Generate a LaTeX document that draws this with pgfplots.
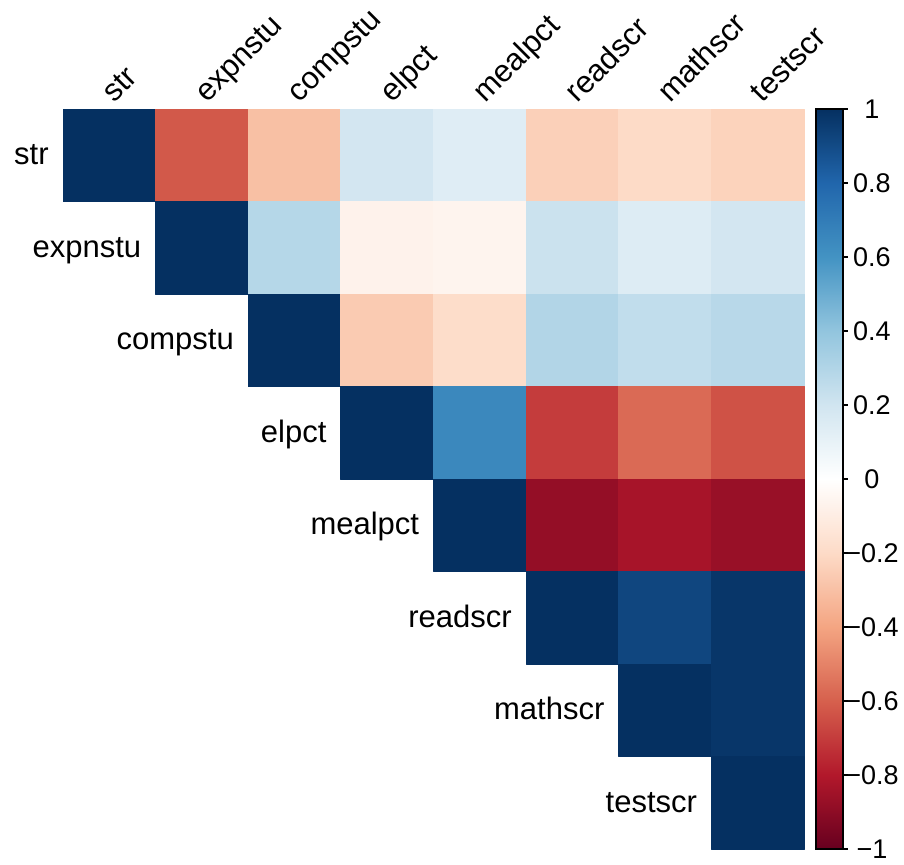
\documentclass[border=0pt]{standalone}
\usepackage{fontspec}
\setmainfont{Liberation Sans}
\usepackage{pgfplots}
\pgfplotsset{compat=1.18}
\newcommand{\lab}{\fontsize{15.5}{18}\selectfont}
\newcommand{\tlab}{\fontsize{13.5}{15}\selectfont}
\begin{document}
\begin{tikzpicture}
\begin{axis}[
  scale only axis, width=370.5pt, height=370pt,
  xmin=0.5, xmax=8.5, ymin=0.5, ymax=8.5, y dir=reverse,
  hide axis, clip=false,
  colormap={rdbu}{rgb255(0)=(103,0,31) rgb255(1)=(178,24,43) rgb255(2)=(214,96,77) rgb255(3)=(244,165,130) rgb255(4)=(253,219,199) rgb255(5)=(255,255,255) rgb255(6)=(209,229,240) rgb255(7)=(146,197,222) rgb255(8)=(67,147,195) rgb255(9)=(33,102,172) rgb255(10)=(5,48,97)},
  point meta min=-1, point meta max=1,
  colorbar,
  colorbar style={
    at={(parent axis.north east)}, anchor=north west, xshift=-2.54pt,
    width=13.5pt,
    ytick={-1,-0.8,-0.6,-0.4,-0.2,0,0.2,0.4,0.6,0.8,1},
    yticklabels={−1,−0.8,−0.6,−0.4,−0.2,0,0.2,0.4,0.6,0.8,1},
    ytick pos=right, yticklabel pos=right,
    tick align=outside, major tick length=2.5pt,
    tick style={black, line width=0.6pt},
    axis line style={black, line width=1pt},
    yticklabel style={font=\tlab, anchor=center, inner sep=0pt, xshift=12pt},
  },
]
\addplot[patch, patch type=rectangle, shader=flat, point meta=explicit] table[meta=c] {
x y c
0.5 0.5 1
1.5 0.5 1
1.5 1.5 1
0.5 1.5 1
1.5 0.5 -0.62
2.5 0.5 -0.62
2.5 1.5 -0.62
1.5 1.5 -0.62
2.5 0.5 -0.30
3.5 0.5 -0.30
3.5 1.5 -0.30
2.5 1.5 -0.30
3.5 0.5 0.19
4.5 0.5 0.19
4.5 1.5 0.19
3.5 1.5 0.19
4.5 0.5 0.14
5.5 0.5 0.14
5.5 1.5 0.14
4.5 1.5 0.14
5.5 0.5 -0.24
6.5 0.5 -0.24
6.5 1.5 -0.24
5.5 1.5 -0.24
6.5 0.5 -0.20
7.5 0.5 -0.20
7.5 1.5 -0.20
6.5 1.5 -0.20
7.5 0.5 -0.23
8.5 0.5 -0.23
8.5 1.5 -0.23
7.5 1.5 -0.23
1.5 1.5 1
2.5 1.5 1
2.5 2.5 1
1.5 2.5 1
2.5 1.5 0.29
3.5 1.5 0.29
3.5 2.5 0.29
2.5 2.5 0.29
3.5 1.5 -0.07
4.5 1.5 -0.07
4.5 2.5 -0.07
3.5 2.5 -0.07
4.5 1.5 -0.06
5.5 1.5 -0.06
5.5 2.5 -0.06
4.5 2.5 -0.06
5.5 1.5 0.22
6.5 1.5 0.22
6.5 2.5 0.22
5.5 2.5 0.22
6.5 1.5 0.15
7.5 1.5 0.15
7.5 2.5 0.15
6.5 2.5 0.15
7.5 1.5 0.19
8.5 1.5 0.19
8.5 2.5 0.19
7.5 2.5 0.19
2.5 2.5 1
3.5 2.5 1
3.5 3.5 1
2.5 3.5 1
3.5 2.5 -0.26
4.5 2.5 -0.26
4.5 3.5 -0.26
3.5 3.5 -0.26
4.5 2.5 -0.19
5.5 2.5 -0.19
5.5 3.5 -0.19
4.5 3.5 -0.19
5.5 2.5 0.30
6.5 2.5 0.30
6.5 3.5 0.30
5.5 3.5 0.30
6.5 2.5 0.25
7.5 2.5 0.25
7.5 3.5 0.25
6.5 3.5 0.25
7.5 2.5 0.28
8.5 2.5 0.28
8.5 3.5 0.28
7.5 3.5 0.28
3.5 3.5 1
4.5 3.5 1
4.5 4.5 1
3.5 4.5 1
4.5 3.5 0.65
5.5 3.5 0.65
5.5 4.5 0.65
4.5 4.5 0.65
5.5 3.5 -0.70
6.5 3.5 -0.70
6.5 4.5 -0.70
5.5 4.5 -0.70
6.5 3.5 -0.57
7.5 3.5 -0.57
7.5 4.5 -0.57
6.5 4.5 -0.57
7.5 3.5 -0.64
8.5 3.5 -0.64
8.5 4.5 -0.64
7.5 4.5 -0.64
4.5 4.5 1
5.5 4.5 1
5.5 5.5 1
4.5 5.5 1
5.5 4.5 -0.88
6.5 4.5 -0.88
6.5 5.5 -0.88
5.5 5.5 -0.88
6.5 4.5 -0.83
7.5 4.5 -0.83
7.5 5.5 -0.83
6.5 5.5 -0.83
7.5 4.5 -0.87
8.5 4.5 -0.87
8.5 5.5 -0.87
7.5 5.5 -0.87
5.5 5.5 1
6.5 5.5 1
6.5 6.5 1
5.5 6.5 1
6.5 5.5 0.92
7.5 5.5 0.92
7.5 6.5 0.92
6.5 6.5 0.92
7.5 5.5 0.98
8.5 5.5 0.98
8.5 6.5 0.98
7.5 6.5 0.98
6.5 6.5 1
7.5 6.5 1
7.5 7.5 1
6.5 7.5 1
7.5 6.5 0.98
8.5 6.5 0.98
8.5 7.5 0.98
7.5 7.5 0.98
7.5 7.5 1
8.5 7.5 1
8.5 8.5 1
7.5 8.5 1
};
\coordinate (bl) at (axis cs:0.5,8.5);
% column labels
\node[rotate=45, anchor=base west, inner sep=0pt, font=\lab] at ([shift={(2.5pt,2.5pt)}]axis cs:1,0.5) {str};
\node[rotate=45, anchor=base west, inner sep=0pt, font=\lab] at ([shift={(2.5pt,2.5pt)}]axis cs:2,0.5) {expnstu};
\node[rotate=45, anchor=base west, inner sep=0pt, font=\lab] at ([shift={(2.5pt,2.5pt)}]axis cs:3,0.5) {compstu};
\node[rotate=45, anchor=base west, inner sep=0pt, font=\lab] at ([shift={(2.5pt,2.5pt)}]axis cs:4,0.5) {elpct};
\node[rotate=45, anchor=base west, inner sep=0pt, font=\lab] at ([shift={(2.5pt,2.5pt)}]axis cs:5,0.5) {mealpct};
\node[rotate=45, anchor=base west, inner sep=0pt, font=\lab] at ([shift={(2.5pt,2.5pt)}]axis cs:6,0.5) {readscr};
\node[rotate=45, anchor=base west, inner sep=0pt, font=\lab] at ([shift={(2.5pt,2.5pt)}]axis cs:7,0.5) {mathscr};
\node[rotate=45, anchor=base west, inner sep=0pt, font=\lab] at ([shift={(2.5pt,2.5pt)}]axis cs:8,0.5) {testscr};
% row labels
\node[anchor=base east, inner sep=0pt, font=\lab] at ([shift={(-7pt,-4.8pt)}]axis cs:0.5,1) {str};
\node[anchor=base east, inner sep=0pt, font=\lab] at ([shift={(-7pt,-4.8pt)}]axis cs:1.5,2) {expnstu};
\node[anchor=base east, inner sep=0pt, font=\lab] at ([shift={(-7pt,-4.8pt)}]axis cs:2.5,3) {compstu};
\node[anchor=base east, inner sep=0pt, font=\lab] at ([shift={(-7pt,-4.8pt)}]axis cs:3.5,4) {elpct};
\node[anchor=base east, inner sep=0pt, font=\lab] at ([shift={(-7pt,-4.8pt)}]axis cs:4.5,5) {mealpct};
\node[anchor=base east, inner sep=0pt, font=\lab] at ([shift={(-7pt,-4.8pt)}]axis cs:5.5,6) {readscr};
\node[anchor=base east, inner sep=0pt, font=\lab] at ([shift={(-7pt,-4.8pt)}]axis cs:6.5,7) {mathscr};
\node[anchor=base east, inner sep=0pt, font=\lab] at ([shift={(-7pt,-4.8pt)}]axis cs:7.5,8) {testscr};
\end{axis}
\pgfresetboundingbox
\path[use as bounding box] ([shift={(-31.5pt,-7.5pt)}]bl) rectangle ([shift={(420.5pt,424.5pt)}]bl);
\end{tikzpicture}
\end{document}
